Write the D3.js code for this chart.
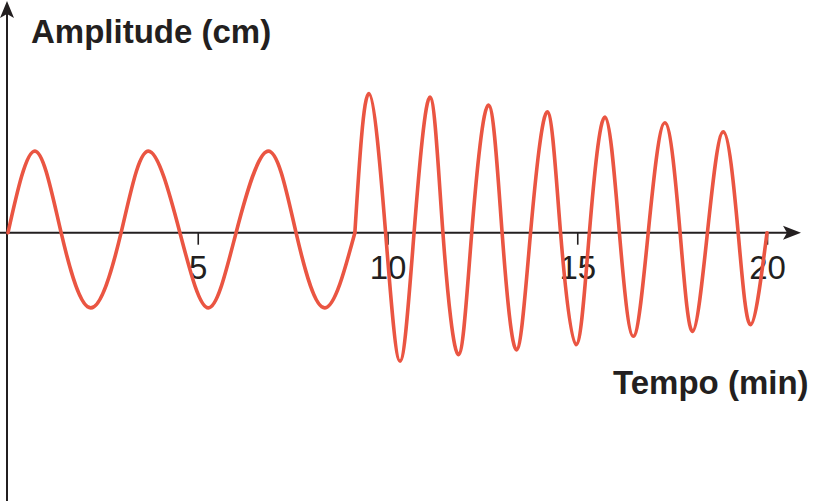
<!DOCTYPE html>
<html>
<head>
<meta charset="utf-8">
<script src="https://cdn.jsdelivr.net/npm/d3@7"></script>
<style>
  html, body { margin: 0; padding: 0; background: #ffffff; }
  svg { display: block; }
</style>
</head>
<body>
<svg id="chart" width="813" height="501"></svg>
<script>
// ---- data (time in min, amplitude in cm) ----
// phase 1: slow oscillation (zero crossings and extrema)
const phase1Time = [0, 0.71, 1.40, 2.18, 2.98, 3.70, 4.53, 5.28, 6.01, 6.86, 7.59, 8.35, 9.14];
const phase1Amp  = [0, 2.04, 0, -1.88, 0, 2.04, 0, -1.88, 0, 2.04, 0, -1.88, 0];
// phase 2: faster oscillation with decaying amplitude
const phase2Time = [9.14, 9.51, 9.95, 10.33, 10.70, 11.12, 11.46, 11.87, 12.22, 12.66, 13.02, 13.40, 13.77,
                    14.21, 14.56, 14.97, 15.32, 15.73, 16.11, 16.48, 16.87, 17.31, 17.71, 18.04, 18.43,
                    18.85, 19.24, 19.57, 20.0];
const phase2Amp  = [0, 3.48, 0, -3.21, 0, 3.39, 0, -3.05, 0, 3.19, 0, -2.93, 0,
                    3.02, 0, -2.80, 0, 2.89, 0, -2.59, 0, 2.75, 0, -2.47, 0,
                    2.52, 0, -2.30, 0];
const tickValues = [5, 10, 15, 20];
const tickLabels = ["5", "10", "15", "20"];
const yTitle = "Amplitude (cm)";
const xTitle = "Tempo (min)";

// ---- drawing ----
const svg = d3.select("#chart");
const axisColor = "#231f20";
const waveColor = "#ea5542";

const x = d3.scaleLinear().domain([0, 20]).range([8, 767]);
const y = d3.scaleLinear().domain([-4, 4]).range([232.7 + 160, 232.7 - 160]);

const y0 = y(0);
const axisX = 7;

// x axis line + arrow
svg.append("line")
  .attr("x1", 0).attr("x2", 788).attr("y1", y0).attr("y2", y0)
  .attr("stroke", axisColor).attr("stroke-width", 2);
svg.append("path")
  .attr("d", `M801,${y0} L783,${y0 - 7} L787,${y0} L783,${y0 + 7} Z`)
  .attr("fill", axisColor);

// y axis line + arrow
svg.append("line")
  .attr("x1", axisX).attr("x2", axisX).attr("y1", 501).attr("y2", 12)
  .attr("stroke", axisColor).attr("stroke-width", 2);
svg.append("path")
  .attr("d", `M${axisX},1 L${axisX - 7},18 L${axisX},14 L${axisX + 7},18 Z`)
  .attr("fill", axisColor);

// ticks + labels
const xAxis = d3.axisBottom(x)
  .tickValues(tickValues)
  .tickFormat((d, i) => tickLabels[i])
  .tickSizeInner(12).tickSizeOuter(0).tickPadding(14);
const gx = svg.append("g").attr("transform", `translate(0,${y0})`).call(xAxis);
gx.select(".domain").remove();
gx.selectAll(".tick line").attr("stroke", axisColor).attr("stroke-width", 1.6);
gx.selectAll(".tick text")
  .attr("fill", axisColor)
  .attr("font-family", "'Liberation Sans', Arial, Helvetica, sans-serif")
  .attr("font-size", 33)
  .attr("dy", null)
  .attr("y", 46.6);

// waves
const line = d3.line()
  .x(d => x(d[0]))
  .y(d => y(d[1]))
  .curve(d3.curveNatural);

const phase1 = phase1Time.map((t, i) => [t, phase1Amp[i]]);
const phase2 = phase2Time.map((t, i) => [t, phase2Amp[i]]);

[phase1, phase2].forEach(data => {
  svg.append("path")
    .datum(data)
    .attr("d", line)
    .attr("fill", "none")
    .attr("stroke", waveColor)
    .attr("stroke-width", 3.6)
    .attr("stroke-linecap", "round")
    .attr("stroke-linejoin", "round");
});

// titles
svg.append("text")
  .attr("x", 31).attr("y", 43.3)
  .attr("font-family", "'Liberation Sans', Arial, Helvetica, sans-serif")
  .attr("font-weight", "bold").attr("font-size", 33)
  .attr("fill", axisColor)
  .text(yTitle);

svg.append("text")
  .attr("x", 613).attr("y", 394)
  .attr("font-family", "'Liberation Sans', Arial, Helvetica, sans-serif")
  .attr("font-weight", "bold").attr("font-size", 33)
  .attr("fill", axisColor)
  .text(xTitle);
</script>
</body>
</html>
